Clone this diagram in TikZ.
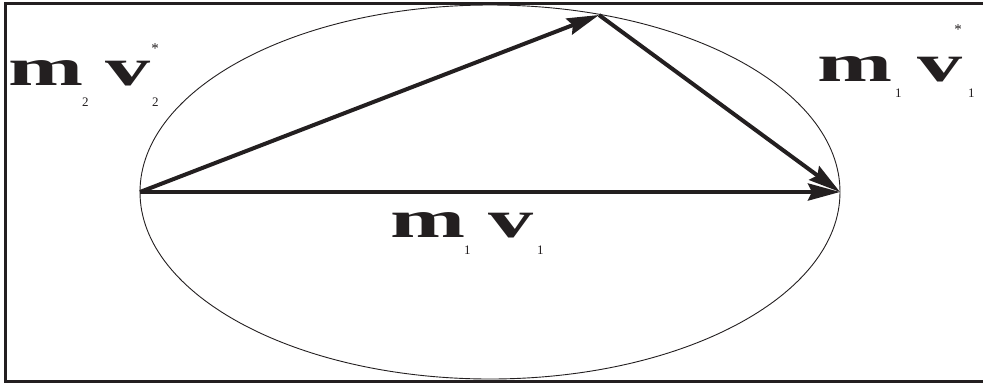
\documentclass[tikz,border=0pt]{standalone}
\usepackage{fontspec}
\usepackage{graphicx}
\setmainfont{Liberation Serif}
\usetikzlibrary{arrows.meta}
\definecolor{ink}{HTML}{231F20}
\newcommand\widen[1]{\scalebox{1.7}[1]{#1}}
\tikzset{
  big/.style={inner sep=0pt, anchor=base west, text=ink, font=\fontsize{53}{53}\selectfont\bfseries},
  sub/.style={inner sep=0pt, anchor=base west, text=ink, font=\fontsize{13}{13}\selectfont},
  star/.style={inner sep=0pt, anchor=center, text=ink, font=\fontsize{15}{15}\selectfont},
  vec/.style={line width=4pt, draw=ink, -{Stealth[length=32pt,width=17pt,inset=4pt]}},
  frame/.style={line width=3pt, draw=ink},
}
\begin{document}
\begin{tikzpicture}[x=1pt,y=-1pt]
\useasboundingbox (0,0) rectangle (983,384);
% frame
\coordinate (f1) at (983,3);
\coordinate (f2) at (5,3);
\coordinate (f3) at (5,381);
\coordinate (f4) at (983,381);
\draw[frame] (f1) -- (f2) -- (f3) -- (f4);
% ellipse
\coordinate (ctr) at (490,192);
\draw[ink, line width=0.9pt] (ctr) ellipse [x radius=350, y radius=187];
% vector points
\coordinate (A) at (140,192);
\coordinate (B) at (840,192);
\coordinate (C) at (599,15);
\draw[vec] (A) -- (B);
\draw[vec] (A) -- (C);
\draw[vec] (C) -- (B);
% left label m2 v2*
\node[big] (lm) at (8,85) {\widen{m}};
\node[sub] (lms) at (82,106) {2};
\node[big] (lv) at (105,85) {\widen{v}};
\node[sub] (lvs) at (152,106) {2};
\node[star] (lst) at (155,49) {*};
% right label m1 v1*
\node[big] (rm) at (817,81) {\widen{m}};
\node[sub] (rms) at (895,97) {1};
\node[big] (rv) at (917,81) {\widen{v}};
\node[sub] (rvs) at (968,97) {1};
\node[star] (rst) at (958,30) {*};
% bottom label m1 v1
\node[big] (bm) at (390,237) {\widen{m}};
\node[sub] (bms) at (464,254) {1};
\node[big] (bv) at (488,237) {\widen{v}};
\node[sub] (bvs) at (537,254) {1};
\end{tikzpicture}
\end{document}
